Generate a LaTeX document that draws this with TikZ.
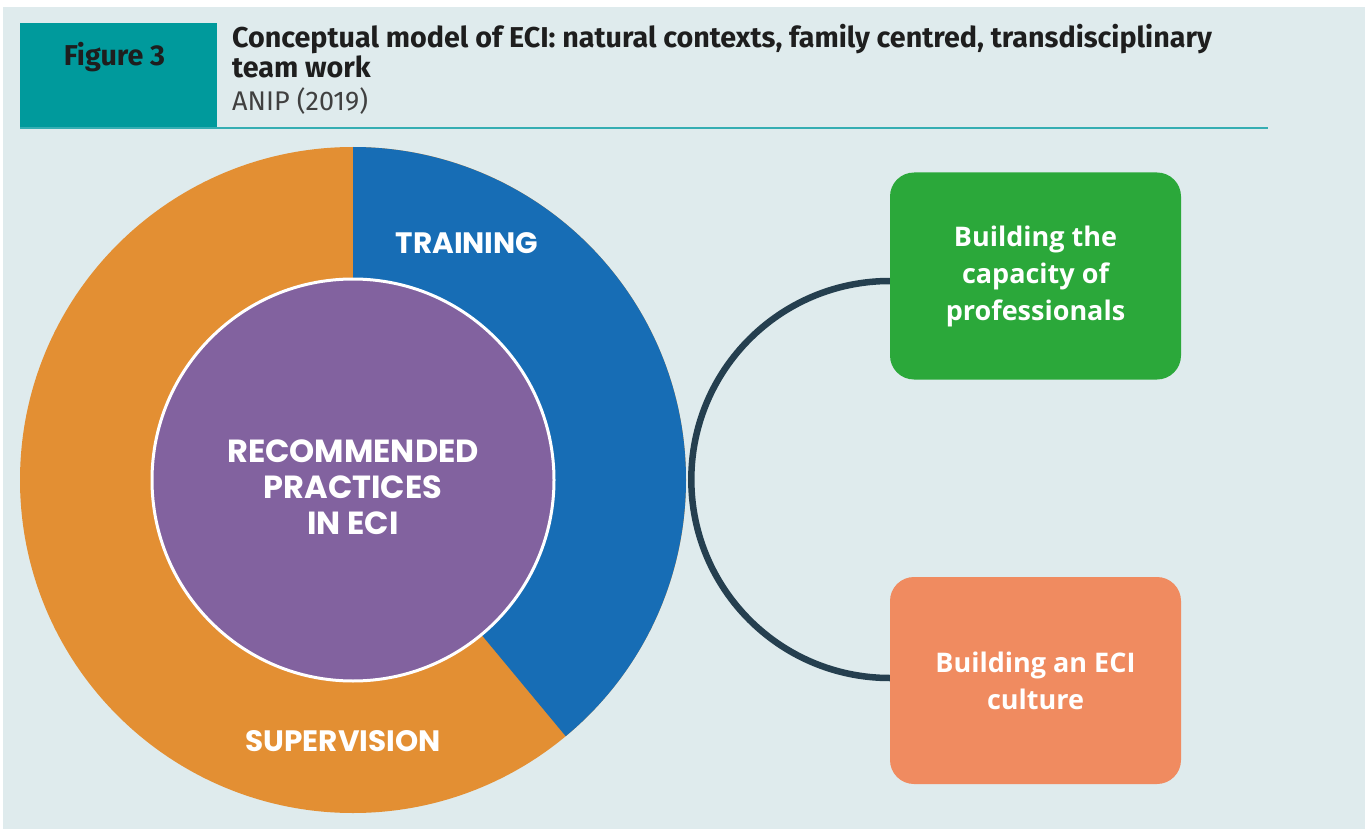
\documentclass[tikz,border=0pt]{standalone}
\usepackage{fontspec}
\usetikzlibrary{calc}
\setmainfont{Fira Sans}
\newfontfamily\titlefont{Fira Sans}
\newfontfamily\ringfont{Poppins}
\newfontfamily\boxfont{Open Sans}
\definecolor{bgc}{HTML}{DFEBED}
\definecolor{tealc}{HTML}{009A9C}
\definecolor{tealline}{HTML}{35AEB3}
\definecolor{orangec}{HTML}{E38F33}
\definecolor{bluec}{HTML}{176DB5}
\definecolor{purplec}{HTML}{82629F}
\definecolor{greenc}{HTML}{2BA83A}
\definecolor{salmonc}{HTML}{F08B60}
\definecolor{connc}{HTML}{253F4F}
\definecolor{textdark}{HTML}{1E1E1E}
\tikzset{
  ringlabel/.style={text=white, inner sep=0pt, anchor=base, font=\ringfont\bfseries\fontsize{29.5}{34}\selectfont},
  boxstyle/.style={rounded corners=24pt, minimum width=291pt, minimum height=207pt, inner sep=0pt, text=white, align=center, font=\boxfont\bfseries\fontsize{27}{37}\selectfont},
  titletext/.style={inner sep=0pt, anchor=base west, text=textdark, font=\titlefont\bfseries\fontsize{28.7}{31}\selectfont},
  conn/.style={draw=connc, line width=6.5pt}
}
\begin{document}
\begin{tikzpicture}[x=1pt,y=1pt]
\useasboundingbox (0,0) rectangle (1365,-829);
\fill[white] (0,0) rectangle (1365,-829);
\fill[bgc] (3,-7) rectangle (1365,-829);
% header
\fill[tealc] (20,-23) rectangle (217,-128);
\node[titletext, anchor=base] (figlbl) at (114.5,-66) {Figure 3};
\draw[tealline, line width=2pt] (20,-128) -- (1268,-128);
\node[titletext] (title1) at (232,-48) {Conceptual model of ECI: natural contexts, family centred, transdisciplinary};
\node[titletext] (title2) at (232,-78) {team work};
\node[titletext, font=\titlefont\fontsize{27}{31}\selectfont, text=textdark!85] (source) at (232,-111) {ANIP (2019)};
% ring
\coordinate (C) at (353,-480);
\fill[orangec] (C) circle[radius=333];
\fill[bluec] (C) -- ($(C)+(-50.3:333)$) arc[start angle=-50.3, end angle=90, radius=333] -- cycle;
\node[circle, fill=purplec, draw=white, line width=3pt, minimum size=402pt, inner sep=0pt] (inner) at (C) {};
\node[ringlabel] (training) at (467,-253) {TRAINING};
\node[ringlabel] (supervision) at (343,-751) {SUPERVISION};
\node[ringlabel, font=\ringfont\bfseries\fontsize{32}{36}\selectfont] (rec1) at (353,-462) {RECOMMENDED};
\node[ringlabel, font=\ringfont\bfseries\fontsize{32}{36}\selectfont] (rec2) at (353,-498) {PRACTICES};
\node[ringlabel, font=\ringfont\bfseries\fontsize{32}{36}\selectfont] (rec3) at (353,-534) {IN ECI};
% boxes
\node[boxstyle, fill=greenc] (boxA) at (1035.5,-276) {Building the\\capacity of\\professionals};
\node[boxstyle, fill=salmonc] (boxB) at (1035.5,-680.5) {Building an ECI\\culture};
% connector
\draw[conn] ([yshift=-5pt]boxA.west) arc[start angle=90, end angle=270, radius=198.5];
\end{tikzpicture}
\end{document}
